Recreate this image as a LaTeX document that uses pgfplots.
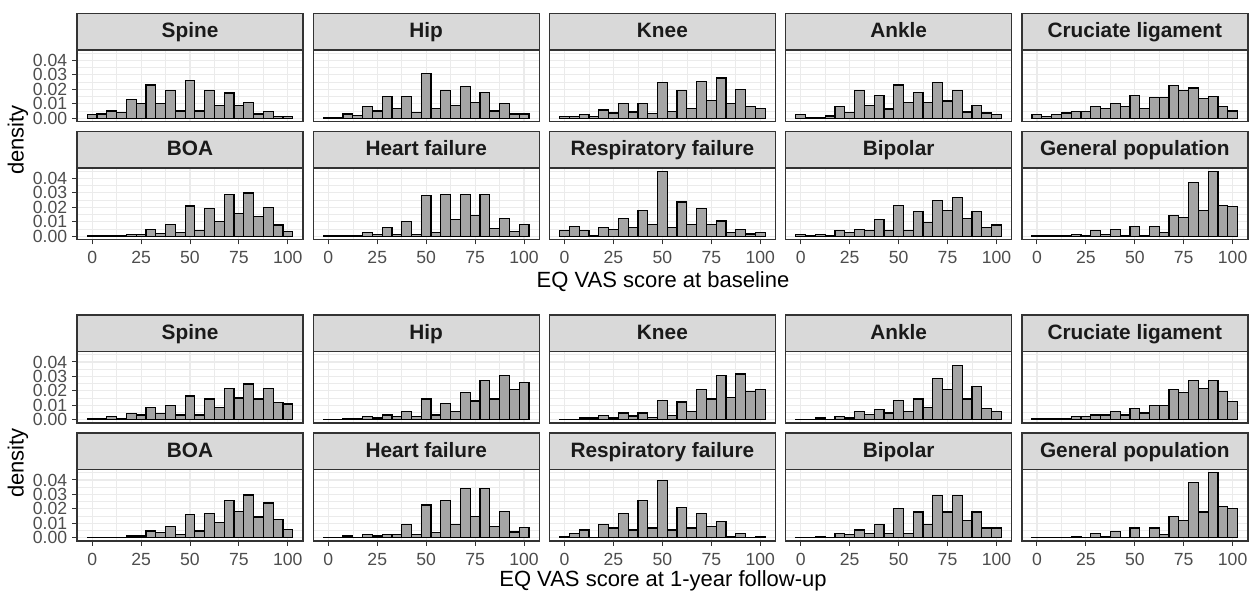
\documentclass[border=0pt]{standalone}
\usepackage{fontspec}
\setmainfont{Liberation Sans}
\usepackage{pgfplots}
\usepackage{pgfplotstable}
\pgfplotsset{compat=1.18}

\definecolor{g10}{HTML}{1A1A1A}
\definecolor{g20}{HTML}{333333}
\definecolor{g30}{HTML}{4D4D4D}
\definecolor{g85}{HTML}{D9D9D9}
\definecolor{gridc}{HTML}{EBEBEB}
\definecolor{barc}{HTML}{A5A5A5}

% density per 5-point bin, EQ VAS at baseline
\pgfplotstableread{
x   spine  hip    knee   ankle  acl    boa    hf     resp   bip    gen
0   0.0024 0.0005 0.0010 0.0025 0.0026 0.0002 0.0002 0.0037 0.0010 0.0002
5   0.0030 0.0005 0.0010 0.0005 0.0014 0.0002 0.0002 0.0068 0.0002 0.0002
10  0.0050 0.0030 0.0025 0.0005 0.0026 0.0002 0.0002 0.0037 0.0010 0.0002
15  0.0040 0.0020 0.0010 0.0015 0.0036 0.0003 0.0005 0.0005 0.0002 0.0002
20  0.0130 0.0080 0.0057 0.0080 0.0048 0.0010 0.0024 0.0059 0.0037 0.0010
25  0.0100 0.0050 0.0036 0.0040 0.0048 0.0010 0.0012 0.0046 0.0027 0.0002
30  0.0230 0.0150 0.0100 0.0190 0.0080 0.0046 0.0058 0.0124 0.0049 0.0037
35  0.0100 0.0070 0.0043 0.0090 0.0070 0.0020 0.0010 0.0063 0.0037 0.0010
40  0.0190 0.0150 0.0100 0.0155 0.0100 0.0080 0.0100 0.0180 0.0115 0.0046
45  0.0050 0.0040 0.0033 0.0064 0.0080 0.0024 0.0010 0.0080 0.0037 0.0001
50  0.0260 0.0310 0.0245 0.0230 0.0160 0.0210 0.0280 0.0450 0.0215 0.0068
55  0.0050 0.0070 0.0045 0.0110 0.0070 0.0040 0.0024 0.0059 0.0037 0.0001
60  0.0190 0.0190 0.0190 0.0176 0.0145 0.0190 0.0290 0.0237 0.0170 0.0068
65  0.0090 0.0090 0.0069 0.0110 0.0145 0.0100 0.0115 0.0080 0.0093 0.0024
70  0.0175 0.0220 0.0255 0.0245 0.0224 0.0290 0.0290 0.0190 0.0249 0.0146
75  0.0090 0.0110 0.0124 0.0120 0.0190 0.0156 0.0144 0.0080 0.0180 0.0127
80  0.0110 0.0180 0.0279 0.0190 0.0210 0.0300 0.0290 0.0105 0.0270 0.0370
85  0.0030 0.0050 0.0100 0.0043 0.0136 0.0137 0.0056 0.0027 0.0124 0.0180
90  0.0045 0.0100 0.0200 0.0090 0.0148 0.0200 0.0124 0.0049 0.0170 0.0450
95  0.0010 0.0030 0.0081 0.0036 0.0080 0.0078 0.0034 0.0015 0.0063 0.0215
100 0.0010 0.0030 0.0069 0.0026 0.0050 0.0034 0.0080 0.0027 0.0078 0.0205
}\base

% density per 5-point bin, EQ VAS at 1-year follow-up
\pgfplotstableread{
x   spine  hip    knee   ankle  acl    boa    hf     resp   bip    gen
0   0.0010 0.0003 0.0003 0.0003 0.0005 0.0002 0.0003 0.0007 0.0003 0.0001
5   0.0010 0.0003 0.0003 0.0003 0.0005 0.0002 0.0003 0.0032 0.0003 0.0001
10  0.0024 0.0010 0.0012 0.0012 0.0005 0.0002 0.0012 0.0054 0.0010 0.0001
15  0.0010 0.0005 0.0012 0.0003 0.0005 0.0002 0.0003 0.0001 0.0001 0.0001
20  0.0043 0.0024 0.0028 0.0024 0.0024 0.0012 0.0025 0.0089 0.0032 0.0010
25  0.0033 0.0012 0.0012 0.0012 0.0024 0.0012 0.0012 0.0067 0.0020 0.0001
30  0.0087 0.0033 0.0047 0.0057 0.0033 0.0047 0.0022 0.0168 0.0054 0.0032
35  0.0043 0.0024 0.0026 0.0038 0.0033 0.0035 0.0022 0.0054 0.0032 0.0010
40  0.0099 0.0057 0.0047 0.0069 0.0057 0.0079 0.0094 0.0260 0.0089 0.0042
45  0.0033 0.0024 0.0014 0.0047 0.0033 0.0020 0.0022 0.0067 0.0032 0.0001
50  0.0165 0.0144 0.0132 0.0132 0.0080 0.0160 0.0227 0.0395 0.0200 0.0067
55  0.0033 0.0033 0.0028 0.0057 0.0047 0.0047 0.0035 0.0054 0.0032 0.0001
60  0.0144 0.0110 0.0123 0.0144 0.0099 0.0170 0.0260 0.0212 0.0178 0.0067
65  0.0087 0.0057 0.0057 0.0087 0.0099 0.0104 0.0094 0.0067 0.0089 0.0022
70  0.0217 0.0187 0.0210 0.0286 0.0210 0.0260 0.0340 0.0168 0.0290 0.0146
75  0.0150 0.0130 0.0144 0.0208 0.0187 0.0180 0.0148 0.0077 0.0178 0.0121
80  0.0248 0.0270 0.0307 0.0373 0.0270 0.0296 0.0340 0.0110 0.0290 0.0385
85  0.0144 0.0144 0.0156 0.0144 0.0217 0.0143 0.0079 0.0010 0.0121 0.0178
90  0.0217 0.0307 0.0317 0.0229 0.0270 0.0240 0.0180 0.0032 0.0178 0.0450
95  0.0118 0.0208 0.0196 0.0078 0.0196 0.0126 0.0040 0.0001 0.0067 0.0215
100 0.0109 0.0260 0.0210 0.0057 0.0128 0.0057 0.0069 0.0010 0.0067 0.0202
}\fup

\pgfplotsset{
  panel/.style={
    anchor=south west, scale only axis, width=113pt, height=35.75pt,
    xmin=-7.75, xmax=107.75, ymin=-0.00225, ymax=0.04725,
    axis line style={g20, line width=0.7pt},
    xtick={0,25,50,75,100}, minor xtick={12.5,37.5,62.5,87.5},
    ytick={0,0.01,0.02,0.03,0.04}, minor ytick={0.005,0.015,0.025,0.035,0.045},
    xticklabels={0,25,50,75,100}, yticklabels={0.00,0.01,0.02,0.03,0.04},
    scaled y ticks=false, scaled x ticks=false,
    grid=both, major grid style={gridc, line width=0.55pt},
    minor grid style={gridc, line width=0.3pt},
    tick align=outside, xtick pos=left, ytick pos=left,
    major tick length=2.5pt, minor tick length=0pt,
    tick style={g20, line width=0.5pt},
    ticklabel style={font=\fontsize{8.8}{9}\selectfont, text=g30},
    yticklabel style={inner sep=0.25pt, xshift=-2pt},
    ybar, bar width=5, bar shift=0pt,
    every axis title shift=0pt,
    title style={at={(0.5,1)}, anchor=south, yshift=0pt, draw=g20, fill=g85,
      line width=0.7pt, minimum width=113pt, minimum height=18.25pt,
      inner sep=0pt, outer sep=0pt, text=g10, text height=7.3pt, text depth=1.2pt,
      font=\bfseries\fontsize{10.4}{12}\selectfont},
  },
  nox/.style={xticklabels={}, xmajorticks=false},
  noy/.style={yticklabels={}, ymajorticks=false},
}

\newcommand{\panel}[6]{%
  \begin{axis}[panel, at={(#1pt,#2pt)}, title={#3}, #6]
    \addplot[fill=barc, draw=black, line width=0.6pt] table[x=x, y=#5] {#4};
  \end{axis}}

\begin{document}
\begin{tikzpicture}[x=1pt, y=1pt]
\path[use as bounding box] (0,0) rectangle (625,297);

% baseline
\panel{38.5}{236.25}{Spine}{\base}{spine}{nox}
\panel{156.6}{236.25}{Hip}{\base}{hip}{nox,noy}
\panel{274.7}{236.25}{Knee}{\base}{knee}{nox,noy}
\panel{392.8}{236.25}{Ankle}{\base}{ankle}{nox,noy}
\panel{510.9}{236.25}{Cruciate ligament}{\base}{acl}{nox,noy}
\panel{38.5}{177.25}{BOA}{\base}{boa}{}
\panel{156.6}{177.25}{Heart failure}{\base}{hf}{noy}
\panel{274.7}{177.25}{Respiratory failure}{\base}{resp}{noy}
\panel{392.8}{177.25}{Bipolar}{\base}{bip}{noy}
\panel{510.9}{177.25}{General population}{\base}{gen}{noy}

% follow-up
\panel{38.5}{85.5}{Spine}{\fup}{spine}{nox}
\panel{156.6}{85.5}{Hip}{\fup}{hip}{nox,noy}
\panel{274.7}{85.5}{Knee}{\fup}{knee}{nox,noy}
\panel{392.8}{85.5}{Ankle}{\fup}{ankle}{nox,noy}
\panel{510.9}{85.5}{Cruciate ligament}{\fup}{acl}{nox,noy}
\panel{38.5}{26.5}{BOA}{\fup}{boa}{}
\panel{156.6}{26.5}{Heart failure}{\fup}{hf}{noy}
\panel{274.7}{26.5}{Respiratory failure}{\fup}{resp}{noy}
\panel{392.8}{26.5}{Bipolar}{\fup}{bip}{noy}
\panel{510.9}{26.5}{General population}{\fup}{gen}{noy}

\node[rotate=90, font=\fontsize{11}{13}\selectfont] at (9,227) {density};
\node[rotate=90, font=\fontsize{11}{13}\selectfont] at (9,65.5) {density};
\node[font=\fontsize{11}{13}\selectfont] at (331.5,156) {EQ VAS score at baseline};
\node[font=\fontsize{11}{13}\selectfont] at (331.5,6.5) {EQ VAS score at 1-year follow-up};
\end{tikzpicture}
\end{document}
